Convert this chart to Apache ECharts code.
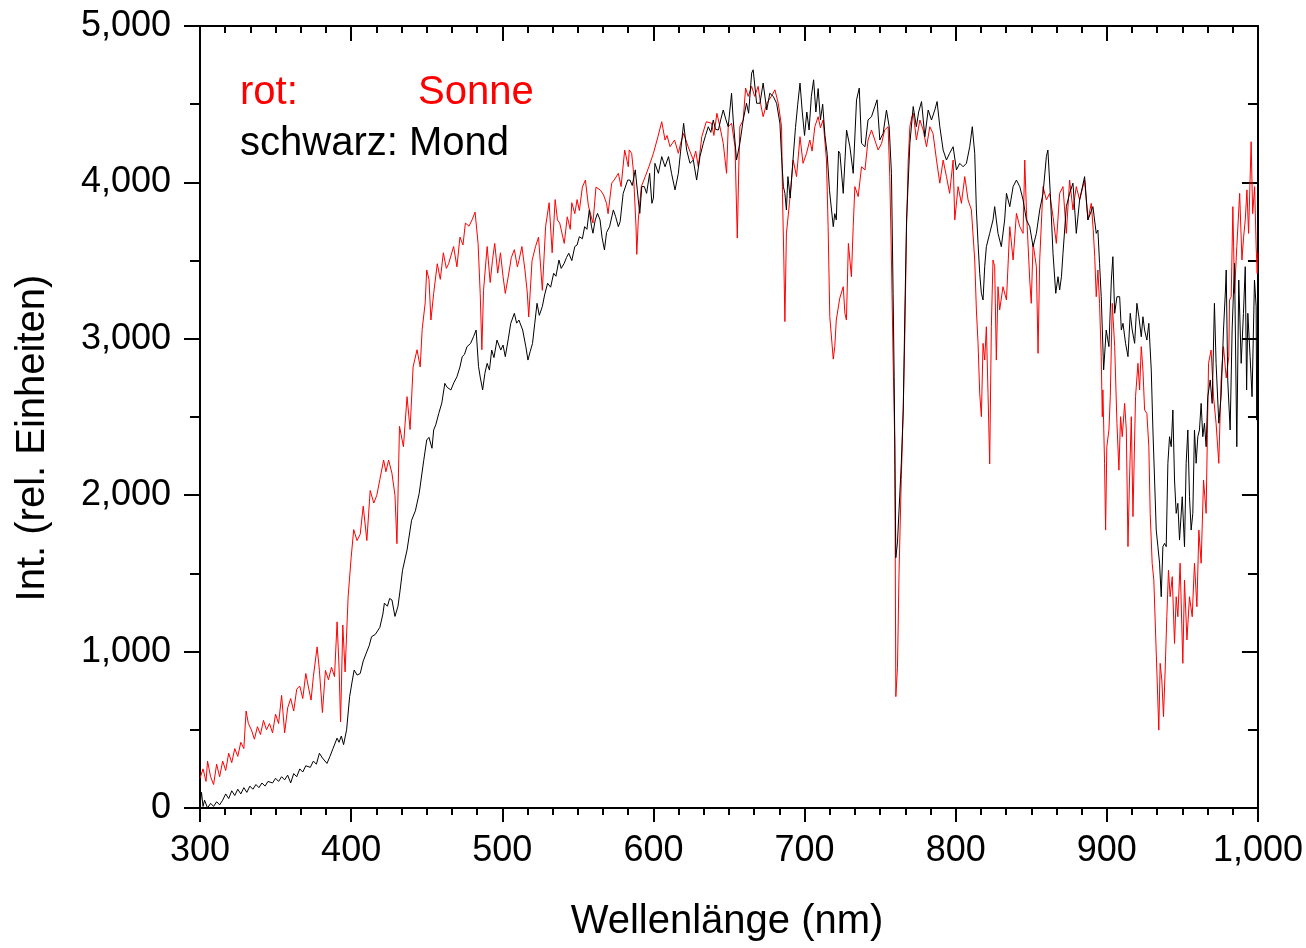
<!DOCTYPE html>
<html>
<head>
<meta charset="utf-8">
<script src="https://cdn.jsdelivr.net/npm/echarts@6/dist/echarts.min.js"></script>
<style>
html,body{margin:0;padding:0;background:#fff;}
#chart{width:1306px;height:948px;}
</style>
</head>
<body>
<div id="chart"></div>
<script>
// Axis ranges (nm, relative units)
const xRange = [300, 1000], xStep = 100;
const yRange = [0, 5000], yStep = 1000;
const xTitle = 'Wellenlänge (nm)';
const yTitle = 'Int. (rel. Einheiten)';
const legendLines = [['rot:', 'Sonne'], ['schwarz: Mond']];

// Sonne (red): [wavelength nm, intensity]
const sonne = [
[300,190],[302,250],[304,170],[305,300],[307,200],[309,150],[311,280],[313,200],[315,300],[317,240],[319,350],[321,290],[323,380],[325,330],[327,420],[329,380],[330.5,620],[332,540],[334,500],[336,440],[338,520],[340,470],[342,560],[344,500],[346,540],[348,480],[350,600],[352,540],[354,720],[356,480],[358,640],[360,700],[362,620],[364,760],[366,780],[368,700],[370,860],[372,760],[373.5,690],[375,840],[377.5,1030],[379,880],[381,610],[383,880],[385,820],[387,900],[389,840],[390.7,1190],[392,900],[393,550],[394.5,1170],[396,870],[398,1350],[400,1600],[401.7,1780],[403.9,1710],[406,1750],[408,1930],[410.4,1710],[412.6,2030],[415,1950],[417,2000],[419,2100],[421.5,2225],[423,2150],[424.8,2225],[427,2140],[429,2000],[430.3,1690],[432,2440],[434.6,2310],[437,2630],[439,2420],[441,2820],[443.6,2930],[445.7,2820],[447,3060],[449,3230],[450,3440],[451.5,3380],[452.8,3120],[454.6,3290],[457,3480],[459,3380],[461,3550],[463,3450],[464.5,3480],[467.8,3590],[470,3460],[472,3650],[474,3600],[475.6,3740],[478,3720],[480,3760],[482,3810],[484,3610],[485.4,3290],[486.5,2930],[487.6,3310],[490,3590],[492,3360],[493.5,3500],[495,3610],[497,3420],[498.8,3550],[500.5,3400],[502,3290],[504,3400],[506,3520],[508,3570],[510,3460],[511,3500],[513,3590],[515,3440],[516.5,3300],[517.5,3140],[519.7,3500],[522,3590],[524,3650],[526.5,3310],[528.7,3720],[531,3870],[533,3550],[535,3890],[536.5,3760],[538,3740],[541,3610],[543,3780],[545,3700],[546,3870],[548,3800],[549.5,3890],[551,3820],[553,3970],[555,4015],[557,3850],[560,3740],[562,3970],[565,3950],[567,3920],[569,3866],[570,3800],[572.4,3995],[574,4015],[576.8,4058],[578.6,3973],[581,4207],[583.4,4100],[584,4208],[585.6,4186],[586.7,4080],[588.5,3717],[589,3540],[590,3760],[592,3973],[594.6,4037],[597,4100],[600,4186],[603,4292],[605.5,4388],[607.7,4271],[609,4300],[611,4228],[614,4271],[616.5,4186],[618,4250],[620,4313],[623,4228],[626.4,4143],[628,4200],[629.7,4100],[632,4292],[635,4388],[638.5,4378],[640,4300],[642,4442],[644,4356],[646.2,4250],[648.4,4058],[649.5,4356],[651.7,4378],[654,4228],[655.5,3644],[656.5,4100],[657.2,4356],[659.4,4399],[661,4603],[662.7,4550],[665,4614],[667,4550],[669.3,4614],[671,4500],[672.6,4420],[675,4506],[678,4550],[680.4,4592],[682.6,4506],[684.8,4356],[685.4,3930],[686.3,3503],[687,3110],[688,3674],[690,3866],[692.5,4143],[694.7,4037],[697,4292],[699,4122],[701.3,4186],[703.5,4271],[705,4200],[706.8,4356],[709,4420],[710.5,4350],[712.3,4399],[714.5,4143],[715.6,3717],[716.7,3142],[719,2870],[720,2950],[721,3120],[723.3,3260],[724.5,3250],[725.6,3333],[726.7,3163],[727.7,3120],[729,3610],[731,3397],[732.2,3717],[733.3,3973],[735.5,3909],[737.7,4100],[740,4080],[742,4271],[744.3,4335],[746.5,4271],[748.7,4207],[751,4250],[753,4335],[755.3,4356],[756.4,4037],[757.5,3504],[758.6,2864],[759.7,2333],[760.4,712],[761.5,900],[762.5,1500],[764,2100],[765.3,2545],[766.4,3050],[767.5,3717],[768.6,4143],[769.7,4356],[771,4420],[772,4442],[774,4271],[776.3,4399],[778.5,4335],[780.7,4228],[782.9,4356],[785,4313],[787.3,4143],[789.5,3995],[791.7,4143],[793.9,4037],[796,3930],[798.3,4143],[799.4,3760],[801.6,3973],[803.8,3866],[806,4037],[808.2,3888],[810.4,3824],[812.6,3504],[813.7,3184],[814.8,2971],[815.9,2651],[817,2502],[818.1,2971],[819.2,2864],[820.3,3077],[821.4,2651],[822.5,2200],[823.6,3077],[824.7,3504],[825.8,3461],[826.9,2864],[828,3333],[829.1,3184],[831.3,3333],[833.6,3248],[835.8,3717],[838,3504],[840.2,3802],[842.4,3717],[844.6,3674],[845.7,4143],[846.8,3824],[849,3376],[850,3227],[851.2,3610],[853.4,3461],[854.5,2907],[855.6,3504],[857.8,3973],[860,3888],[862.2,3930],[864.4,3781],[866.6,3610],[868.8,3930],[871,3973],[873.2,3674],[875.4,4015],[877.6,3824],[879.8,3973],[882,3888],[885.3,4015],[887.5,3760],[889.7,3866],[891,3700],[892,3525],[893,3269],[894.1,3440],[895.2,3227],[896.3,2886],[897,2502],[897.4,2673],[898.5,2204],[899.2,1777],[900,2310],[901.4,2417],[902.3,2630],[903.6,3227],[905.2,2950],[906.7,2460],[908,2160],[909.1,2502],[910.2,2374],[911.8,2587],[912.9,2417],[914,1671],[915,2097],[916.2,2502],[917.3,1863],[919,2630],[920.6,2843],[921.7,2673],[922.8,2950],[923.9,2800],[925,2545],[926.5,2523],[927.8,2310],[928.7,1884],[930,1565],[931.1,1458],[932.2,1138],[933.3,818],[934.4,498],[935.3,925],[936.4,818],[937.5,584],[938.6,882],[939.7,1223],[940.8,1521],[941.9,1351],[943.3,1479],[944.8,1052],[945.9,1351],[947,1223],[948.5,1565],[950.3,925],[951.4,1458],[953,1074],[954.7,1351],[956.5,1223],[958,1565],[959.6,1287],[960.9,1777],[962.4,1565],[964,2097],[965.7,1884],[967.3,2843],[969,2928],[970.6,2630],[972.3,2460],[974.1,2204],[975.6,2737],[977.2,2950],[979,2750],[980.7,2886],[981.2,3248],[982.3,3269],[983.4,3845],[984.5,3291],[986,3589],[987.9,3930],[989.4,3504],[990.5,3650],[991.6,3760],[992.7,3952],[993.8,3674],[995.5,4260],[996.5,3800],[997.8,3973],[998.8,3589],[999.5,3418],[1000,3550]
];

// Mond (black): [wavelength nm, intensity]
const mond = [
[300,20],[301,100],[302,10],[303,50],[305,0],[307,30],[309,10],[311,40],[313,20],[315,50],[317,90],[319,60],[321,110],[323,80],[325,120],[327,90],[329,130],[331,100],[333,140],[335,120],[337,150],[339,130],[341,160],[343,140],[345,170],[348,160],[350,190],[352,170],[354,200],[356,180],[358,210],[360,160],[362,220],[364,200],[366,250],[368,230],[370,270],[373,260],[375,300],[377,280],[379,350],[381,320],[384,285],[386,330],[388,380],[390.7,447],[392,420],[393.5,460],[395,405],[397,500],[399,712],[400.5,800],[402,882],[404,850],[406,860],[408,940],[410,990],[412,1040],[413.5,1095],[416,1110],[419,1155],[421,1240],[422,1310],[424,1290],[425.5,1340],[427,1330],[429,1225],[431,1290],[432.5,1400],[434,1520],[437,1650],[440,1840],[442.5,1900],[445,2010],[448,2220],[450,2353],[451.5,2370],[453.5,2300],[454.6,2417],[456,2450],[458,2523],[460,2590],[462,2715],[463.5,2690],[466,2673],[468,2720],[470,2757],[472,2820],[473.5,2886],[475,2900],[476.6,2949],[479,2970],[481,3014],[482.7,3056],[484.3,2822],[485.5,2750],[487,2673],[488.5,2780],[490,2843],[491.5,2800],[493,2928],[494.5,2880],[496.5,2992],[499,2928],[500.5,2960],[502,2886],[504,3000],[505.6,3099],[508,3163],[509.5,3100],[511,3120],[513.5,3056],[515.6,2949],[517,2864],[518.5,2920],[520,2970],[521.5,3100],[523,3227],[524.5,3150],[526.5,3206],[528,3280],[530,3355],[532,3330],[534,3419],[535.5,3400],[537.5,3504],[539,3450],[541,3483],[542.5,3520],[544,3547],[546,3500],[548,3590],[549.5,3600],[551,3653],[553,3640],[554.5,3717],[556,3700],[557.6,3824],[559,3720],[560,3675],[561.5,3760],[563,3802],[564.7,3760],[566,3650],[567.6,3568],[569,3680],[571,3717],[573.5,3824],[575,3781],[576.8,3717],[578,3750],[580,3930],[583,4015],[584.5,4015],[586,3980],[588,4080],[590,3888],[591,3802],[592.3,3973],[594,3973],[595.5,3930],[597.5,4058],[599,3866],[600,3900],[601,4122],[603.3,4058],[605.5,4165],[607.7,4100],[610,4165],[612,4058],[614.3,3952],[616.5,4058],[618,4200],[620,4378],[622,4207],[624.2,4122],[626.4,4143],[628.6,4015],[630.8,4165],[633,4250],[634.5,4300],[636.3,4356],[638,4320],[639.6,4399],[641,4340],[643,4335],[644.5,4400],[646.2,4463],[648,4400],[649.5,4356],[651.7,4570],[652.8,4399],[655,4143],[657.2,4250],[659.4,4399],[661.6,4506],[663,4442],[665,4699],[666,4720],[668.3,4506],[670.5,4506],[672.6,4635],[675,4463],[677,4570],[679.3,4550],[681.5,4506],[683.7,4378],[684.8,4165],[686,3973],[687,3930],[688,3824],[689,4037],[690.5,3900],[692,4100],[694,4350],[695.5,4500],[697,4635],[698.5,4450],[700,4300],[701.5,4450],[703,4335],[704.5,4550],[706,4656],[707.5,4450],[709,4600],[710.5,4400],[712,4500],[713.5,4300],[715,4180],[716.5,3950],[719,3717],[720,3800],[721,3760],[722.5,4200],[723.4,4186],[725.6,3930],[727.8,4335],[730,4228],[732.2,4058],[734.4,4528],[736.2,4603],[737.7,4250],[740,4228],[742,4399],[744.3,4420],[746.5,4485],[748,4528],[749.8,4271],[752,4313],[754.2,4463],[756,4356],[757.5,4058],[758.6,3291],[759.3,2757],[760.4,1600],[761.5,1700],[762.5,1900],[764,2200],[765.3,2545],[766.4,3184],[767.5,3760],[769.7,4250],[771.9,4485],[774,4356],[775.5,4450],[777.4,4517],[779.6,4292],[781.8,4463],[784,4399],[786.2,4463],[787.7,4517],[789.5,4356],[791.7,4207],[793.9,4143],[796,4186],[798.3,4228],[800.5,4080],[802.7,4122],[804.9,4100],[807.1,4122],[809.3,4228],[811,4356],[812.6,4186],[813.7,3824],[814.8,3610],[815.9,3418],[817,3291],[818.1,3248],[819.2,3461],[820.3,3589],[822.5,3674],[824.7,3760],[825.8,3845],[828,3674],[830.2,3589],[832.4,3760],[833.6,3930],[835.8,3845],[838,3973],[840.2,4015],[842.4,3973],[844.6,3888],[846.8,3760],[849,3717],[851.2,3589],[853.4,3674],[855.6,3824],[857.8,3930],[860,4165],[861,4207],[862.6,3930],[864.4,3547],[866.2,3291],[867.7,3397],[868.8,3312],[870,3400],[871,3547],[873.2,3845],[875.4,3930],[877.6,3995],[879.8,3674],[882,3888],[885.3,4037],[887.5,3760],[890.8,3845],[893,3674],[894.1,3695],[895.2,3482],[896.3,3269],[897.9,2801],[899.6,3056],[901.4,2950],[903,3376],[904,3525],[905.2,3163],[906.7,3269],[908.5,3269],[909.6,3056],[910.7,3099],[912.4,2971],[914,2886],[915.5,3163],[916.8,3056],[918.4,2971],[919.9,3227],[921.2,3141],[922.8,3013],[923.9,3141],[925,3056],[926.5,2992],[927.8,3099],[929.4,2801],[930.5,2417],[931.6,2097],[932.7,1777],[933.8,1671],[934.9,1565],[936,1351],[937.1,1671],[938.2,1692],[939.3,1671],[940.4,2204],[941.5,2374],[942.6,2310],[943.7,2545],[944.8,2097],[945.9,1884],[947,1948],[948.1,1713],[949.9,1990],[951.4,1671],[952.5,2204],[953.6,2417],[954.7,1990],[955.8,1777],[956.9,1884],[958,2417],[959.1,2204],[960.2,2374],[961.3,2417],[962.4,2587],[963.5,2374],[964.6,2460],[965.7,2310],[966.8,2630],[968.4,2737],[969.7,2587],[971.2,3227],[972.3,2843],[974.1,2460],[975.6,2630],[977.2,3056],[978.5,3312],[979,3440],[980,2737],[981.6,2417],[982.9,3056],[984.5,3482],[986,2310],[987.3,3376],[988.9,2843],[990.4,3163],[991.6,3461],[992.5,2673],[993.3,3163],[994.8,2886],[996.1,2630],[997.7,3376],[998.8,3207],[999.2,2480],[1000,2950]
];

const FONT = "'Liberation Sans', Arial, sans-serif";
const chart = echarts.init(document.getElementById('chart'), null, {renderer: 'canvas'});

const lineBlack = {color: '#000', width: 2};
function xAxisCfg(pos) {
  const bottom = pos === 'bottom';
  return {
    type: 'value', position: pos, min: xRange[0], max: xRange[1], interval: xStep,
    axisLine: {show: true, onZero: false, lineStyle: lineBlack},
    axisTick: {show: true, inside: !bottom, length: bottom ? 14 : 15, lineStyle: lineBlack},
    minorTick: {show: true, splitNumber: 6, length: 7, lineStyle: lineBlack},
    axisLabel: {show: bottom, color: '#000', fontSize: 36, fontFamily: FONT, margin: 25},
    splitLine: {show: false}
  };
}
function yAxisCfg(pos) {
  const left = pos === 'left';
  return {
    type: 'value', position: pos, min: yRange[0], max: yRange[1], interval: yStep,
    axisLine: {show: true, onZero: false, lineStyle: lineBlack},
    axisTick: {show: true, inside: !left, length: 16, lineStyle: lineBlack},
    minorTick: {show: true, splitNumber: 2, length: 10, lineStyle: lineBlack},
    axisLabel: {show: left, color: '#000', fontSize: 36, fontFamily: FONT, margin: 29},
    splitLine: {show: false}
  };
}

const legendGraphics = [
  {type: 'text', x: 240, y: 93, style: {text: legendLines[0][0], fill: '#ff0000', fontSize: 40, fontFamily: FONT, align: 'left', verticalAlign: 'middle'}},
  {type: 'text', x: 418, y: 93, style: {text: legendLines[0][1], fill: '#ff0000', fontSize: 40, fontFamily: FONT, align: 'left', verticalAlign: 'middle'}},
  {type: 'text', x: 240, y: 144, style: {text: legendLines[1][0], fill: '#000', fontSize: 40, fontFamily: FONT, align: 'left', verticalAlign: 'middle'}},
  {type: 'text', x: 727, y: 922, style: {text: xTitle, fill: '#000', fontSize: 40, fontFamily: FONT, align: 'center', verticalAlign: 'middle'}},
  {type: 'text', x: 33, y: 438, rotation: Math.PI / 2, style: {text: yTitle, fill: '#000', fontSize: 40, fontFamily: FONT, align: 'center', verticalAlign: 'middle'}}
];

chart.setOption({
  animation: false,
  backgroundColor: '#fff',
  grid: {left: 200, right: 48, top: 26, bottom: 140, containLabel: false},
  xAxis: [xAxisCfg('bottom'), xAxisCfg('top')],
  yAxis: [yAxisCfg('left'), yAxisCfg('right')],
  graphic: legendGraphics,
  series: [
    {name: 'Sonne', type: 'line', xAxisIndex: 0, yAxisIndex: 0, data: sonne, showSymbol: false, symbol: 'none',
     lineStyle: {color: '#ff0000', width: 1}, itemStyle: {color: '#ff0000'}, z: 2},
    {name: 'Mond', type: 'line', xAxisIndex: 0, yAxisIndex: 0, data: mond, showSymbol: false, symbol: 'none',
     lineStyle: {color: '#000', width: 1}, itemStyle: {color: '#000'}, z: 3}
  ]
});
</script>
</body>
</html>
